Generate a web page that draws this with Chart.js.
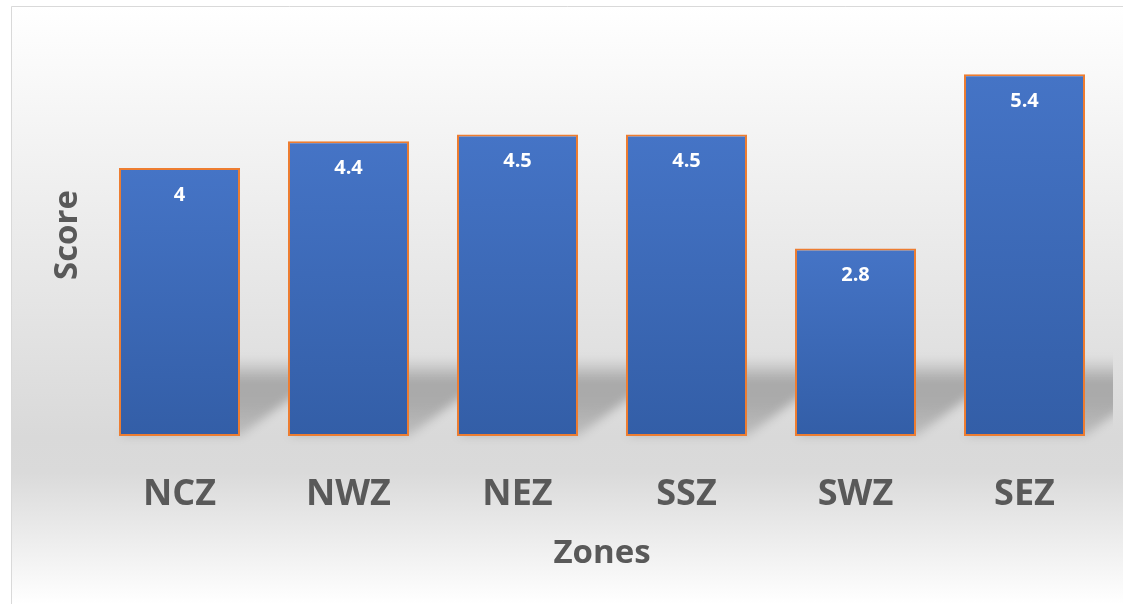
<!DOCTYPE html>
<html>
<head>
<meta charset="utf-8">
<script src="https://cdn.jsdelivr.net/npm/chart.js@4"></script>
<style>
    html, body { margin: 0; padding: 0; background: #ffffff; }
    #wrap { width: 1123px; height: 604px; position: relative; }
</style>
</head>
<body>
<div id="wrap"><canvas id="zones-chart" width="1123" height="604"></canvas></div>
<script>
// 数据
const zones = ['NCZ', 'NWZ', 'NEZ', 'SSZ', 'SWZ', 'SEZ'];
const scores = [4, 4.4, 4.5, 4.5, 2.8, 5.4];
const yMin = 0;
const yMax = 6;

const textGray = '#595959';
const fontFamily = '"Open Sans", "Noto Sans", sans-serif';

// 背景 + 边框
const backgroundPlugin = {
    id: 'bgPanel',
    beforeDraw(chart) {
        const ctx = chart.ctx;
        const w = chart.width, h = chart.height;
        ctx.save();
        const g = ctx.createLinearGradient(0, 6, 0, h);
        g.addColorStop(0, '#ffffff');
        g.addColorStop(0.72, '#d9d9d9');
        g.addColorStop(0.78, '#dadada');
        g.addColorStop(1, '#ffffff');
        ctx.fillStyle = g;
        ctx.fillRect(11, 6, w - 11, h - 6);
        ctx.strokeStyle = '#d9d9d9';
        ctx.lineWidth = 1;
        ctx.beginPath();
        ctx.moveTo(11.5, h);
        ctx.lineTo(11.5, 6.5);
        ctx.lineTo(w, 6.5);
        ctx.stroke();
        ctx.restore();
    }
};

// 柱子后面的透视阴影
const shadowPlugin = {
    id: 'barShadow',
    beforeDatasetsDraw(chart) {
        const ctx = chart.ctx;
        const bars = chart.getDatasetMeta(0).data;
        ctx.save();
        ctx.beginPath();
        ctx.rect(0, 0, 1113, chart.height);
        ctx.clip();
        ctx.filter = 'blur(5px)';
        bars.forEach(bar => {
            const half = bar.width / 2;
            const x0 = bar.x - half, x1 = bar.x + half;
            const base = bar.base;
            const dx = 105, hgt = 78;
            const g = ctx.createLinearGradient(0, base - hgt, 0, base);
            g.addColorStop(0, 'rgba(0,0,0,0)');
            g.addColorStop(0.3, 'rgba(0,0,0,0.24)');
            g.addColorStop(0.6, 'rgba(0,0,0,0.22)');
            g.addColorStop(1, 'rgba(0,0,0,0.12)');
            ctx.fillStyle = g;
            ctx.beginPath();
            ctx.moveTo(x0, base);
            ctx.lineTo(x1, base);
            ctx.lineTo(x1 + dx, base - hgt);
            ctx.lineTo(x0 + dx, base - hgt);
            ctx.closePath();
            ctx.fill();
        });
        ctx.restore();
    }
};

// 柱内数值标签
const valueLabelPlugin = {
    id: 'valueLabels',
    afterDatasetsDraw(chart) {
        const ctx = chart.ctx;
        const bars = chart.getDatasetMeta(0).data;
        ctx.save();
        ctx.fillStyle = '#ffffff';
        ctx.font = 'bold 20px ' + fontFamily;
        ctx.textAlign = 'center';
        ctx.textBaseline = 'middle';
        bars.forEach((bar, i) => {
            ctx.fillText(String(scores[i]), bar.x, bar.y + 27);
        });
        ctx.restore();
    }
};

function barGradient(context) {
    const chart = context.chart;
    const area = chart.chartArea;
    if (!area || context.raw === undefined) return '#4472c4';
    const top = chart.scales.y.getPixelForValue(context.raw);
    const g = chart.ctx.createLinearGradient(0, top, 0, area.bottom);
    g.addColorStop(0, '#4574c6');
    g.addColorStop(1, '#335ea7');
    return g;
}

const canvas = document.getElementById('zones-chart');
new Chart(canvas, {
    type: 'bar',
    data: {
        labels: zones,
        datasets: [{
            label: 'Score',
            data: scores,
            backgroundColor: barGradient,
            borderColor: '#ed7d31',
            borderWidth: 2,
            borderSkipped: false,
            barPercentage: 0.716,
            categoryPercentage: 1.0
        }]
    },
    options: {
        responsive: false,
        animation: false,
        devicePixelRatio: 1,
        layout: {
            padding: { top: 34, right: 14, bottom: 0, left: 0 }
        },
        plugins: {
            legend: { display: false },
            tooltip: { enabled: false },
            title: { display: false }
        },
        scales: {
            x: {
                grid: { display: false, drawTicks: false },
                border: { display: false },
                ticks: {
                    color: textGray,
                    font: { family: fontFamily, size: 36, weight: 'bold' },
                    padding: 37
                },
                title: {
                    display: true,
                    text: 'Zones',
                    color: textGray,
                    font: { family: fontFamily, size: 33, weight: 'bold' },
                    padding: { top: 0, bottom: 31 }
                },
                afterFit(scale) { scale.height = 168; }
            },
            y: {
                min: yMin,
                max: yMax,
                grid: { display: false, drawTicks: false },
                border: { display: false },
                ticks: { display: false },
                title: {
                    display: true,
                    text: 'Score',
                    color: textGray,
                    font: { family: fontFamily, size: 33, weight: 'bold' },
                    padding: { top: 48, bottom: 0 }
                },
                afterFit(scale) { scale.width = 95; }
            }
        }
    },
    plugins: [backgroundPlugin, shadowPlugin, valueLabelPlugin]
});
</script>
</body>
</html>
